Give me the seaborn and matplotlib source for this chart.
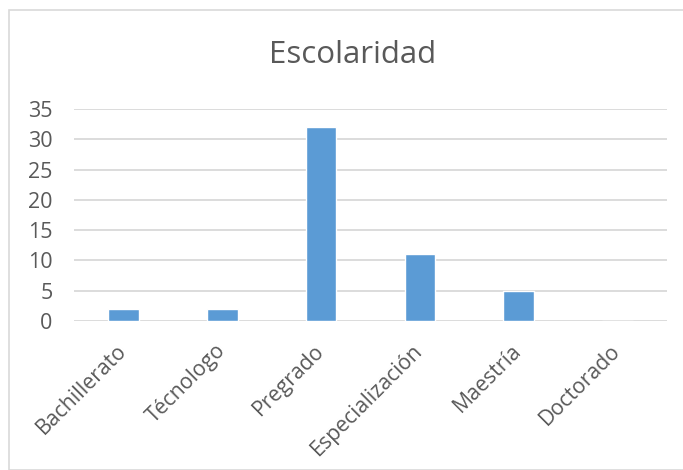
import matplotlib
matplotlib.use("Agg")
import matplotlib.pyplot as plt
from matplotlib.patches import Rectangle
import seaborn as sns
import pandas as pd

# Education level counts
categories = ["Bachillerato", "Técnologo", "Pregrado", "Especialización", "Maestría", "Doctorado"]
counts = [2, 2, 32, 11, 5, 0]
yticks = [0, 5, 10, 15, 20, 25, 30, 35]
title = "Escolaridad"

df = pd.DataFrame({"nivel": categories, "cantidad": counts})

sns.set_theme(style="white")
plt.rcParams["font.family"] = ["Open Sans", "DejaVu Sans"]

text_color = "#595959"
grid_color = "#D9D9D9"
bar_color = "#5B9BD5"

W, H = 683, 470
fig = plt.figure(figsize=(W / 100, H / 100), dpi=100)
fig.patch.set_facecolor("white")

# chart frame
fig.patches.append(Rectangle((9 / W, 0), 1.0, 1 - 10 / H, transform=fig.transFigure,
                             fill=False, edgecolor=grid_color, linewidth=1.2, zorder=0))

left, right = 74 / W, 667 / W
bottom, top = 1 - 321 / H, 1 - 109 / H
ax = fig.add_axes([left, bottom, right - left, top - bottom])

sns.barplot(data=df, x="nivel", y="cantidad", color=bar_color, width=0.31,
            saturation=1, ax=ax, zorder=3)

ax.set_ylim(0, 35)
ax.set_xlim(-0.5, len(categories) - 0.5)
ax.set_yticks(yticks)
ax.yaxis.grid(True, color=grid_color, linewidth=1.3, zorder=0)
ax.set_axisbelow(True)
for s in ax.spines.values():
    s.set_visible(False)
ax.set_xlabel("")
ax.set_ylabel("")
ax.tick_params(axis="both", length=0, colors=text_color)
ax.tick_params(axis="y", pad=15.5, labelsize=15.5)
ax.tick_params(axis="x", pad=19)
ax.set_xticks(range(len(categories)))
ax.set_xticklabels(categories, rotation=45, ha="right", va="center",
                   rotation_mode="anchor", color=text_color, fontsize=15.3)

fig.text(353 / W, 1 - 55 / H, title, ha="center", va="center",
         fontsize=22.5, color=text_color)

fig.savefig("out.png", dpi=100, facecolor="white")
